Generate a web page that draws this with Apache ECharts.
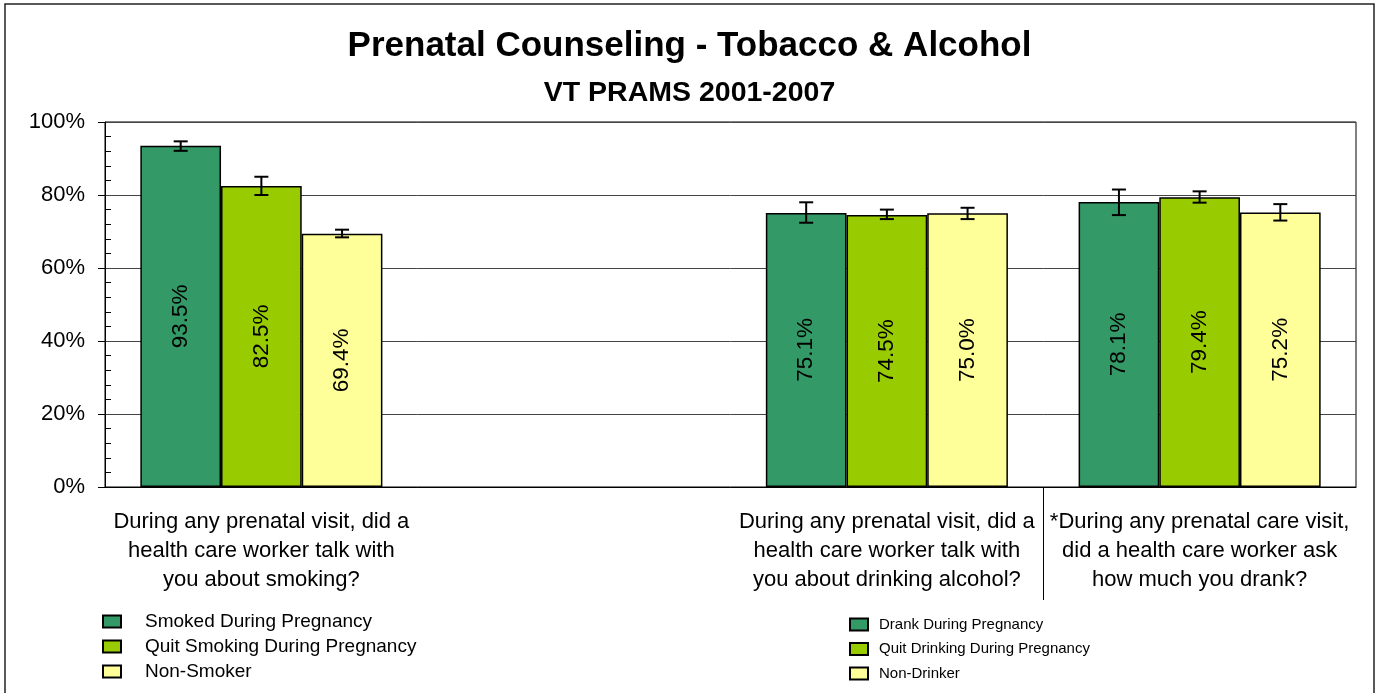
<!DOCTYPE html>
<html><head><meta charset="utf-8">
<script src="https://cdn.jsdelivr.net/npm/echarts@6/dist/echarts.min.js"></script>
<style>html,body{margin:0;padding:0;background:#fff}#c{width:1379px;height:693px}</style>
</head><body><div id="c"></div>
<script>
const categories = [
  "During any prenatal visit, did a\nhealth care worker talk with\nyou about smoking?",
  "",
  "During any prenatal visit, did a\nhealth care worker talk with\nyou about drinking alcohol?",
  "*During any prenatal care visit,\ndid a health care worker ask\nhow much you drank?"
];
// helper axis slots (quarter-band positions) used only for the divider tick between the two alcohol questions
const dividerSlots = ["", "", "", "", "", "", "", "", ""];
const dividerIndex = 6;
const yTicks = [0, 20, 40, 60, 80, 100];
// smoking series (category 0 only)
const smoked      = [93.5, null, null, null];
const quitSmoking = [82.5, null, null, null];
const nonSmoker   = [69.4, null, null, null];
// drinking series (categories 2, 3)
const drank       = [null, null, 75.1, 78.1];
const quitDrink   = [null, null, 74.5, 79.4];
const nonDrinker  = [null, null, 75.0, 75.2];
// error bars: [low, high] per category, by bar position (0 = dark green, 1 = lime, 2 = yellow)
const errLow  = [[92.1, null, 72.4, 74.5], [80.0, null, 73.4, 77.9], [68.4, null, 73.4, 73.0]];
const errHigh = [[94.7, null, 78.0, 81.5], [85.0, null, 76.0, 81.0], [70.5, null, 76.5, 77.5]];
const seriesNamesSmoke = ["Smoked During Pregnancy", "Quit Smoking During Pregnancy", "Non-Smoker"];
const seriesNamesDrink = ["Drank During Pregnancy", "Quit Drinking During Pregnancy", "Non-Drinker"];
const colors = ["#339966", "#99CC00", "#FFFF99"];

const GAP = 0.226;
const font = "Liberation Sans, Arial, sans-serif";

function barSeries(name, data, idx) {
  return {
    name: name, type: 'bar', stack: 's' + idx, data: data,
    xAxisIndex: 0, yAxisIndex: 0,
    barCategoryGap: (GAP * 100) + '%', barGap: '0%',
    itemStyle: { color: colors[idx], borderColor: '#000', borderWidth: 1.5 },
    label: {
      show: true, position: 'inside', rotate: 90, fontSize: 22.5, color: '#000',
      fontFamily: font,
      formatter: p => (p.value == null ? '' : p.value.toFixed(1) + '%')
    },
    z: 2
  };
}

const series = [];
for (let i = 0; i < 3; i++) series.push(barSeries(seriesNamesSmoke[i], [smoked, quitSmoking, nonSmoker][i], i));
for (let i = 0; i < 3; i++) series.push(barSeries(seriesNamesDrink[i], [drank, quitDrink, nonDrinker][i], i));

for (let i = 0; i < 3; i++) {
  const d = [];
  errLow[i].forEach((lo, c) => { if (lo != null) d.push([c, lo, errHigh[i][c]]); });
  series.push({
    type: 'custom', z: 5, silent: true, data: d, xAxisIndex: 0, yAxisIndex: 0,
    encode: { x: 0, y: [1, 2] },
    renderItem: (params, api) => {
      const c = api.value(0);
      const band = api.size([1, 0])[0];
      const bw = band * (1 - GAP) / 3;
      const lo = api.coord([c, api.value(1)]);
      const hi = api.coord([c, api.value(2)]);
      const x = lo[0] + (i - 1) * bw;
      const cap = 7;
      const st = { stroke: '#000', lineWidth: 2 };
      return { type: 'group', children: [
        { type: 'line', shape: { x1: x, y1: lo[1], x2: x, y2: hi[1] }, style: st },
        { type: 'line', shape: { x1: x - cap, y1: lo[1], x2: x + cap, y2: lo[1] }, style: st },
        { type: 'line', shape: { x1: x - cap, y1: hi[1], x2: x + cap, y2: hi[1] }, style: st }
      ]};
    }
  });
}

const legendBase = {
  orient: 'vertical', icon: 'rect', itemWidth: 18, itemHeight: 12, selectedMode: false
};

const gridPos = { left: 105, right: 23, top: 122, bottom: 206 };

const option = {
  animation: false,
  backgroundColor: '#fff',
  title: [
    { text: 'Prenatal Counseling - Tobacco & Alcohol', left: 'center', top: 24,
      textStyle: { fontSize: 35, fontWeight: 'bold', color: '#000', fontFamily: font } },
    { text: 'VT PRAMS 2001-2007', left: 'center', top: 74,
      textStyle: { fontSize: 28.5, fontWeight: 'bold', color: '#000', fontFamily: font } }
  ],
  graphic: [{ type: 'rect', shape: { x: 5, y: 4, width: 1369, height: 700 },
    style: { fill: 'none', stroke: '#222', lineWidth: 1.5 }, silent: true, z: -1 }],
  legend: [
    Object.assign({ left: 97, top: 607, data: seriesNamesSmoke, itemGap: 6,
      textStyle: { fontSize: 19, color: '#000', fontFamily: font, padding: [0, 0, 0, 19] } }, legendBase),
    Object.assign({ left: 844, top: 612, data: seriesNamesDrink, itemGap: 9.5,
      textStyle: { fontSize: 15, color: '#000', fontFamily: font, padding: [0, 0, 0, 6] } }, legendBase)
  ],
  grid: [
    Object.assign({ show: true, borderColor: '#000', borderWidth: 1 }, gridPos),
    Object.assign({ show: false }, gridPos)
  ],
  xAxis: [{
    type: 'category', data: categories, boundaryGap: true, gridIndex: 0,
    axisLine: { lineStyle: { color: '#000', width: 1 } },
    axisTick: { show: false },
    axisLabel: { interval: 0, fontSize: 22, lineHeight: 29, color: '#000', fontFamily: font, margin: 20 }
  }, {
    type: 'category', data: dividerSlots, boundaryGap: false, gridIndex: 1, position: 'bottom',
    axisLine: { show: false },
    axisLabel: { show: false },
    axisTick: { show: true, interval: (i) => i === dividerIndex, length: 113, lineStyle: { color: '#000', width: 1 } }
  }],
  yAxis: [{
    type: 'value', gridIndex: 0, min: yTicks[0], max: yTicks[yTicks.length - 1], interval: 20,
    axisLine: { show: true, lineStyle: { color: '#000' } },
    axisTick: { show: true, length: 7, lineStyle: { color: '#000' } },
    minorTick: { show: true, splitNumber: 5, length: -6, lineStyle: { color: '#000' } },
    splitLine: { show: true, lineStyle: { color: '#444', width: 1 } },
    axisLabel: { fontSize: 22, color: '#000', fontFamily: font, margin: 20, formatter: v => v + '%' }
  }, {
    type: 'value', gridIndex: 1, min: 0, max: 100, show: false
  }],
  series: series
};
echarts.init(document.getElementById('c')).setOption(option);
</script></body></html>
